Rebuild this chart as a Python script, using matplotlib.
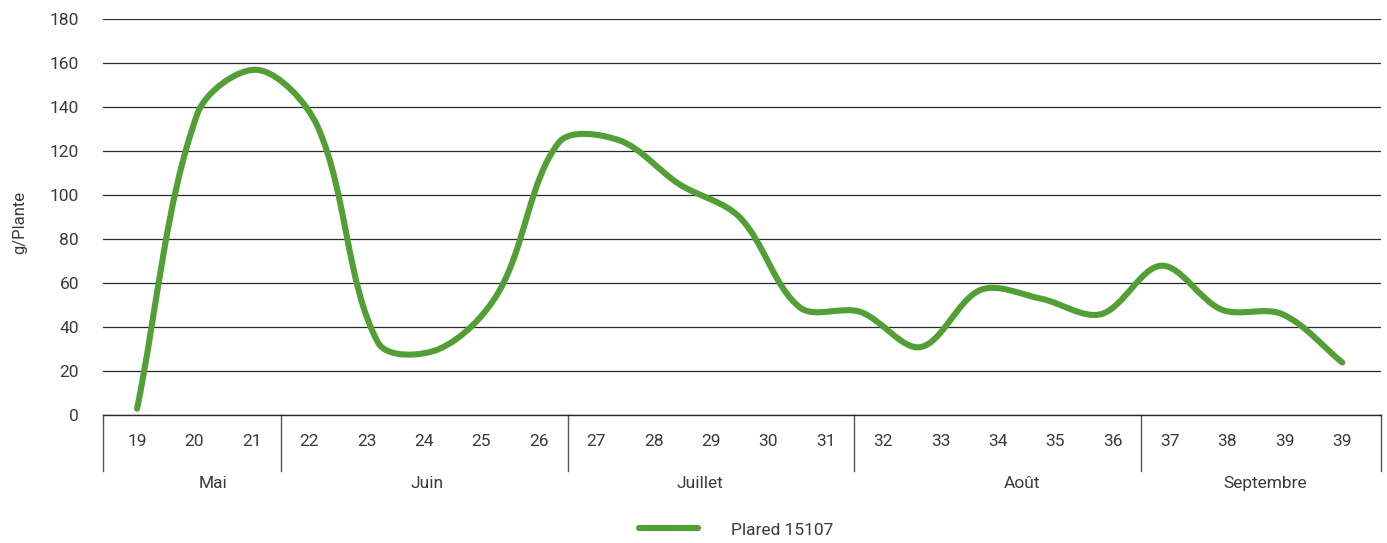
import numpy as np
import matplotlib
matplotlib.use('Agg')
import matplotlib.pyplot as plt
import matplotlib.transforms as mtransforms
from matplotlib.path import Path
from matplotlib.patches import PathPatch
from matplotlib.lines import Line2D

# ── Data ──────────────────────────────────────────────────────────────────
WEEKS = ['19', '20', '21', '22', '23', '24', '25', '26', '27', '28', '29',
         '30', '31', '32', '33', '34', '35', '36', '37', '38', '39', '39']
MONTHS = ['Mai', 'Juin', 'Juillet', 'Août', 'Septembre']
MONTH_SPANS = [3, 5, 5, 5, 4]
SERIES_NAME = 'Plared 15107'
VALUES = [3, 137, 157, 131, 33, 30, 56, 124, 125, 105, 90,
          49, 47, 31, 57, 53, 46, 68, 48, 46, 24]

# ── Style ─────────────────────────────────────────────────────────────────
GREEN = '#52a035'
TEXT = '#3a3a3a'
GRID = '#2a2a2a'
SEP = '#555555'
FONT = 'Roboto'
FS = 12.5

plt.rcParams['font.family'] = [FONT, 'DejaVu Sans']

XLIM = (-0.6, 21.67)
MONTH_X = [1.32, 5.05, 9.81, 15.42, 19.66]   # label centres under the table


def smooth_path(ax, y):
    # Excel-like smoothing: Bezier through each point, tangents weighted by
    # the on-screen length of the neighbouring segments
    pts = np.column_stack([np.arange(len(y)), y]).astype(float)
    disp = ax.transData.transform(pts)
    n = len(disp)
    c_in = disp.copy()
    c_out = disp.copy()
    for i in range(n):
        p_prev = disp[max(i - 1, 0)]
        p_next = disp[min(i + 1, n - 1)]
        d0 = np.hypot(*(disp[i] - p_prev))
        d1 = np.hypot(*(p_next - disp[i]))
        if d0 + d1 == 0:
            continue
        v = p_next - p_prev
        c_out[i] = disp[i] + v * d1 / (d0 + d1) / 3
        c_in[i] = disp[i] - v * d0 / (d0 + d1) / 3
    inv = ax.transData.inverted()
    verts = [pts[0]]
    codes = [Path.MOVETO]
    for i in range(n - 1):
        verts += [inv.transform(c_out[i]), inv.transform(c_in[i + 1]), pts[i + 1]]
        codes += [Path.CURVE4] * 3
    return Path(verts, codes)


fig = plt.figure(figsize=(13.87, 5.43), dpi=100)
ax = fig.add_axes([0.074, 0.2352, 0.9215, 0.7293])

ax.set_xlim(*XLIM)
ax.set_ylim(0, 180)
ax.set_yticks(range(0, 181, 20))
ax.set_xticks([])
for s in ['top', 'right', 'left']:
    ax.spines[s].set_visible(False)
ax.spines['bottom'].set_color(GRID)
ax.spines['bottom'].set_linewidth(1.0)
ax.tick_params(axis='y', length=0, pad=17, labelsize=FS, labelcolor=TEXT)
ax.grid(axis='y', color=GRID, linewidth=0.9)
ax.set_axisbelow(True)

# line drawn on its own category axis (21 points over the 22 table cells)
n = len(VALUES)
ax2 = ax.twiny()
scale = (n - 1) / (len(WEEKS) - 1)
ax2.set_xlim(XLIM[0] * scale, XLIM[1] * scale)
ax2.set_ylim(0, 180)
ax2.axis('off')
ax2.add_patch(PathPatch(smooth_path(ax2, VALUES), facecolor='none', edgecolor=GREEN,
                        linewidth=4.4, capstyle='round', joinstyle='round'))

# category table under the axis
trans = mtransforms.blended_transform_factory(ax.transData, ax.transAxes)
for i, w in enumerate(WEEKS):
    ax.text(i, -0.066, w, transform=trans, ha='center', va='center',
            fontsize=FS, color=TEXT)

bounds = [XLIM[0]]
edge = -0.5
for span in MONTH_SPANS[:-1]:
    edge += span
    bounds.append(edge)
bounds.append(XLIM[1])
for b in bounds:
    ax.plot([b, b], [0, -0.141], transform=trans, color=SEP, linewidth=1.0,
            clip_on=False)

for m, mx in zip(MONTHS, MONTH_X):
    ax.text(mx, -0.172, m, transform=trans, ha='center', va='center',
            fontsize=FS, color=TEXT)

fig.text(20 / 1387, 1 - 222 / 543, 'g/Plante', rotation=90, ha='center',
         va='center', fontsize=12, color=TEXT)

handle = Line2D([], [], color=GREEN, linewidth=4.4, solid_capstyle='round')
fig.legend(handles=[handle], labels=[SERIES_NAME], loc='center',
           bbox_to_anchor=(0.531, 0.024), frameon=False, fontsize=FS,
           handlelength=3.4, handletextpad=1.9, borderpad=0, labelcolor=TEXT)

fig.savefig('out.png', dpi=100)
